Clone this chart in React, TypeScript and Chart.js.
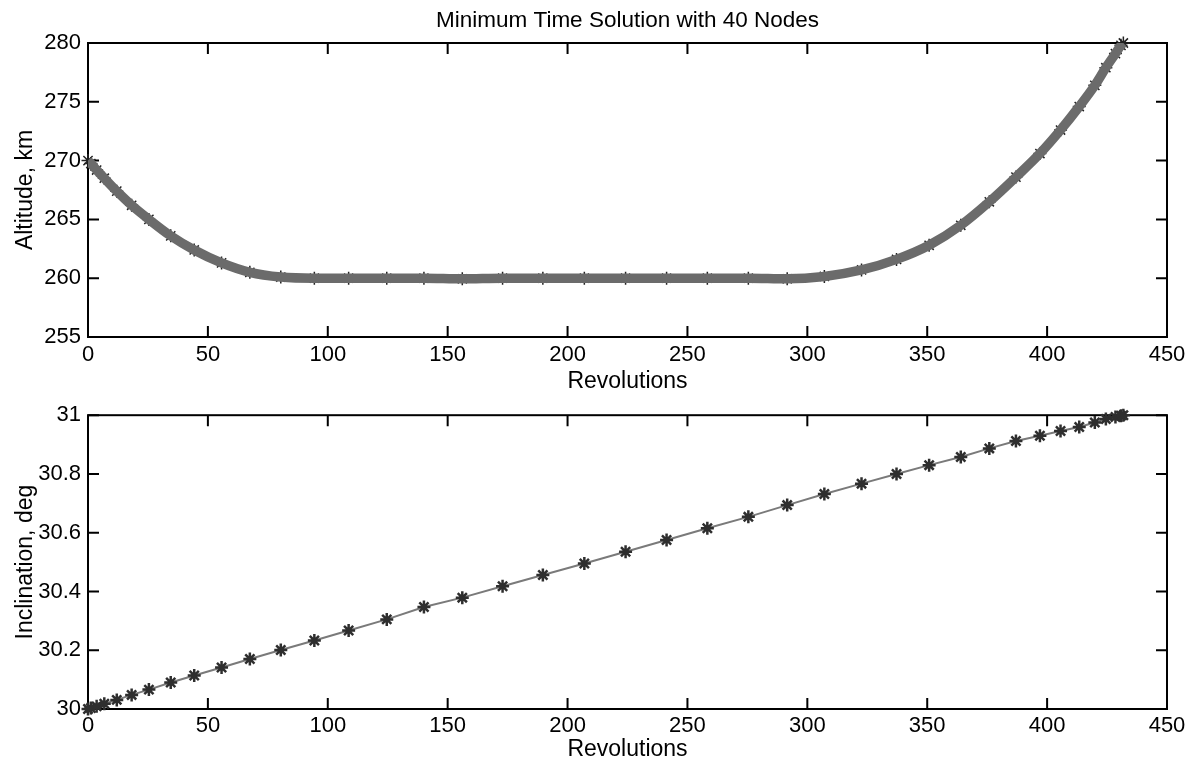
import React, { useEffect, useRef } from "react";
import { Chart, registerables } from "chart.js";

Chart.register(...registerables);

const revolutions = [0, 1.2, 3.6, 6.8, 12.0, 18.2, 25.4, 34.5, 44.3, 55.7, 67.5, 80.4, 94.4, 108.7, 124.6, 140.1, 156.1, 172.9, 189.7, 207.0, 224.2, 241.3, 258.3, 275.4, 291.6, 307.1, 322.6, 337.2, 350.8, 364.0, 375.9, 387.0, 397.0, 405.6, 413.4, 419.9, 424.5, 428.5, 430.8, 431.8];

const altitude = [270.0, 269.75, 269.2, 268.5, 267.4, 266.2, 265.0, 263.6, 262.4, 261.3, 260.5, 260.1, 260.0, 260.0, 260.0, 260.0, 259.95, 260.0, 260.0, 260.0, 260.0, 260.0, 260.0, 260.0, 259.95, 260.15, 260.7, 261.6, 262.8, 264.5, 266.5, 268.6, 270.6, 272.6, 274.6, 276.4, 277.9, 279.1, 279.8, 280.0];

const inclination = [30.0, 30.003, 30.009, 30.018, 30.031, 30.048, 30.066, 30.09, 30.114, 30.141, 30.17, 30.201, 30.233, 30.267, 30.305, 30.347, 30.379, 30.418, 30.456, 30.495, 30.535, 30.575, 30.615, 30.654, 30.694, 30.732, 30.767, 30.8, 30.83, 30.858, 30.887, 30.912, 30.93, 30.946, 30.96, 30.975, 30.987, 30.994, 30.998, 31.0];

const xTicks = { min: 0, max: 450, step: 50 };
const altTicks = { min: 255, max: 280, step: 5 };
const incTicks = { min: 30, max: 31, step: 0.2 };

const chartTitle = "Minimum Time Solution with 40 Nodes";
const xLabel = "Revolutions";
const altLabel = "Altitude, km";
const incLabel = "Inclination, deg";

const FONT = "'Liberation Sans', Arial, Helvetica, sans-serif";

const framePlugin = {
  id: "frame",
  beforeDatasetsDraw(chart: any) {
    const { ctx, chartArea, scales } = chart;
    const { left, right, top, bottom } = chartArea;
    ctx.save();
    ctx.strokeStyle = "#000";
    ctx.lineWidth = 2;
    ctx.strokeRect(left, top, right - left, bottom - top);
    const tl = 11;
    ctx.beginPath();
    scales.x.ticks.forEach((t: any) => {
      const px = scales.x.getPixelForValue(t.value);
      ctx.moveTo(px, bottom);
      ctx.lineTo(px, bottom - tl);
      ctx.moveTo(px, top);
      ctx.lineTo(px, top + tl);
    });
    scales.y.ticks.forEach((t: any) => {
      const py = scales.y.getPixelForValue(t.value);
      ctx.moveTo(left, py);
      ctx.lineTo(left + tl, py);
      ctx.moveTo(right, py);
      ctx.lineTo(right - tl, py);
    });
    ctx.stroke();
    ctx.restore();
  },
};

function fmt(v: any) {
  return String(Number(Number(v).toFixed(1)));
}

function makeOptions(
  yMin: number,
  yMax: number,
  yStep: number,
  yTitle: string,
  title: string | null,
  xHeight: number,
  xTickPad: number,
  xTitlePadBottom: number,
  padTop: number
): any {
  return {
    responsive: false,
    animation: false,
    layout: { padding: { left: 0, right: 28, top: padTop, bottom: 0 } },
    plugins: {
      legend: { display: false },
      tooltip: { enabled: false },
      title: title
        ? {
            display: true,
            fullSize: false,
            text: title,
            color: "#000",
            font: { family: FONT, size: 22.5, weight: "normal", lineHeight: 1.2 },
            padding: { top: 7, bottom: 9 },
          }
        : { display: false },
    },
    scales: {
      x: {
        type: "linear",
        min: xTicks.min,
        max: xTicks.max,
        grid: { display: false, drawTicks: false },
        border: { display: false },
        ticks: {
          stepSize: xTicks.step,
          color: "#000",
          padding: xTickPad,
          maxRotation: 0,
          font: { family: FONT, size: 22 },
          callback: (v: any) => fmt(v),
        },
        title: {
          display: true,
          text: xLabel,
          color: "#000",
          font: { family: FONT, size: 23, lineHeight: 1 },
          padding: { top: 0, bottom: xTitlePadBottom },
        },
        afterFit: (s: any) => {
          s.height = xHeight;
        },
      },
      y: {
        type: "linear",
        min: yMin,
        max: yMax,
        grid: { display: false, drawTicks: false },
        border: { display: false },
        ticks: {
          stepSize: yStep,
          color: "#000",
          padding: 7,
          font: { family: FONT, size: 22 },
          callback: (v: any) => fmt(v),
        },
        title: {
          display: true,
          text: yTitle,
          color: "#000",
          font: { family: FONT, size: 23, lineHeight: 1 },
          padding: { top: 14, bottom: 0 },
        },
        afterFit: (s: any) => {
          s.width = 88;
        },
      },
    },
  };
}

export default function App() {
  const topRef = useRef<HTMLCanvasElement>(null);
  const botRef = useRef<HTMLCanvasElement>(null);

  useEffect(() => {
    const altPts = revolutions.map((r, i) => ({ x: r, y: altitude[i] }));
    const incPts = revolutions.map((r, i) => ({ x: r, y: inclination[i] }));

    const top = new Chart(topRef.current as HTMLCanvasElement, {
      type: "line",
      data: {
        datasets: [
          {
            data: altPts,
            borderColor: "#6b6b6b",
            borderWidth: 9.5,
            pointRadius: 0,
            cubicInterpolationMode: "monotone",
            fill: false,
            clip: 0,
            order: 0,
          } as any,
          {
            data: altPts,
            showLine: false,
            pointStyle: "star",
            pointRadius: 6.5,
            pointBorderWidth: 1.5,
            pointBorderColor: "#222",
            pointBackgroundColor: "#222",
            clip: false,
            order: 1,
          } as any,
        ],
      },
      options: makeOptions(altTicks.min, altTicks.max, altTicks.step, altLabel, chartTitle, 58, 5, 2, 0),
      plugins: [framePlugin],
    });

    const bot = new Chart(botRef.current as HTMLCanvasElement, {
      type: "line",
      data: {
        datasets: [
          {
            data: incPts,
            borderColor: "#7a7a7a",
            borderWidth: 2,
            pointStyle: "star",
            pointRadius: 6.5,
            pointBorderWidth: 2.5,
            pointBorderColor: "#2e2e2e",
            pointBackgroundColor: "#2e2e2e",
            tension: 0,
            fill: false,
            clip: false,
          } as any,
        ],
      },
      options: makeOptions(incTicks.min, incTicks.max, incTicks.step, incLabel, null, 52, 4, 0, 20),
      plugins: [framePlugin],
    });

    return () => {
      top.destroy();
      bot.destroy();
    };
  }, []);

  return (
    <div style={{ position: "absolute", left: 0, top: 0, width: 1195, height: 761, background: "#fff" }}>
      <canvas ref={topRef} width={1195} height={395} style={{ display: "block" }} />
      <canvas ref={botRef} width={1195} height={366} style={{ display: "block" }} />
    </div>
  );
}
